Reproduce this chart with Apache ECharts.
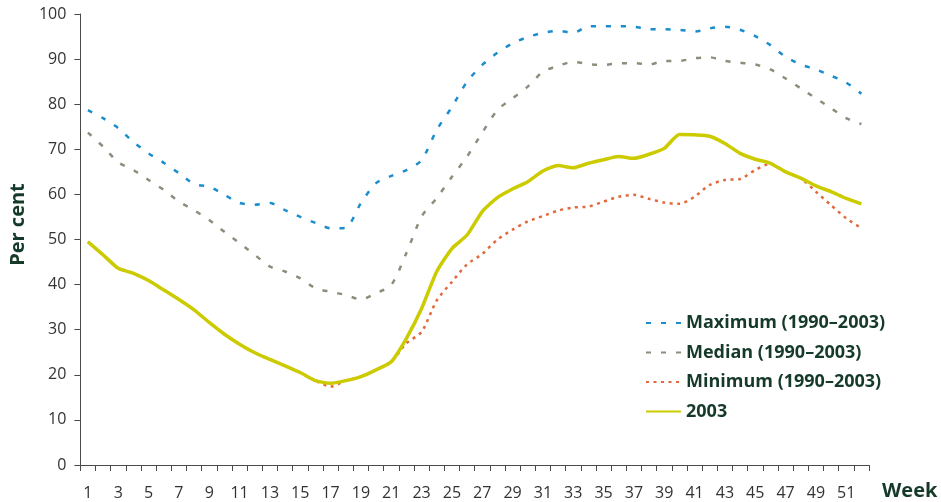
<!DOCTYPE html>
<html>
<head>
<meta charset="utf-8">
<script src="https://cdn.jsdelivr.net/npm/echarts@6/dist/echarts.min.js"></script>
<style>
  html, body { margin: 0; padding: 0; background: #ffffff; }
  #chart { width: 941px; height: 502px; }
</style>
</head>
<body>
<div id="chart"></div>
<script>
// Week numbers along the x axis
const weeks = [1,2,3,4,5,6,7,8,9,10,11,12,13,14,15,16,17,18,19,20,21,22,23,24,25,26,
  27,28,29,30,31,32,33,34,35,36,37,38,39,40,41,42,43,44,45,46,47,48,49,50,51,52];

// Weekly values, per cent
const maximum = [78.7,76.9,74.7,71.6,69.1,67.0,64.7,62.3,61.7,59.9,58.1,57.7,58.1,56.5,55.0,53.7,
  52.5,52.6,58.1,62.5,64.1,65.4,67.6,74.3,79.4,85.0,88.7,91.4,93.5,94.9,95.8,96.3,95.8,97.3,
  97.3,97.3,97.2,96.6,96.6,96.5,96.1,96.8,97.2,96.5,95.1,93.1,90.5,88.8,87.7,86.3,84.8,82.3];

const median = [73.7,70.6,67.1,65.4,63.2,61.0,58.4,56.5,54.3,51.7,49.2,46.6,44.0,42.9,41.4,39.2,
  38.4,37.7,36.7,38.1,39.9,47.0,55.1,59.2,63.9,68.4,73.7,78.7,81.3,83.9,87.2,88.5,89.4,88.9,
  88.7,89.1,89.1,88.8,89.6,89.6,90.2,90.4,89.6,89.2,88.8,87.7,85.7,83.5,81.3,79.1,76.9,75.6];

const minimum = [49.5,46.6,43.6,42.5,40.9,38.8,36.7,34.4,31.6,29.0,26.8,24.9,23.4,22.0,20.5,18.7,
  17.4,18.7,19.6,21.1,22.9,27.0,29.5,36.5,40.6,44.5,46.8,50.0,52.2,54.0,55.2,56.4,57.1,57.3,
  58.4,59.5,59.9,59.0,58.2,57.9,59.5,62.1,63.2,63.4,65.4,66.8,65.0,63.6,60.6,57.6,54.7,52.5];

const year2003 = [49.5,46.6,43.6,42.5,40.9,38.8,36.7,34.4,31.6,29.0,26.8,24.9,23.4,22.0,20.5,18.7,
  18.1,18.7,19.6,21.1,22.9,28.1,34.7,42.9,48.0,51.0,56.2,59.3,61.2,62.8,65.2,66.4,65.9,66.9,
  67.7,68.4,68.0,68.9,70.2,73.3,73.2,72.9,71.3,69.1,67.8,66.9,65.0,63.6,61.9,60.6,59.1,57.9];

const seriesNames = ['Maximum (1990\u20132003)', 'Median (1990\u20132003)', 'Minimum (1990\u20132003)', '2003'];

const FONT = '"Open Sans", "DejaVu Sans", sans-serif';
const DARK_GREEN = '#163a2a';
const AXIS_GREY = '#4a4a4a';

const chart = echarts.init(document.getElementById('chart'), null, { renderer: 'canvas' });

chart.setOption({
  animation: false,
  backgroundColor: '#ffffff',
  grid: { left: 77, right: 72, top: 14, bottom: 37, containLabel: false },
  legend: {
    data: seriesNames,
    orient: 'vertical',
    left: 640,
    top: 308,
    itemWidth: 35,
    itemHeight: 14,
    itemGap: 9.5,
    // line only in the legend keys, no marker dot
    itemStyle: { opacity: 0 },
    textStyle: {
      fontFamily: FONT,
      fontWeight: 'bold',
      fontSize: 18,
      color: DARK_GREEN,
      lineHeight: 20,
      padding: [0, 0, 0, 0]
    }
  },
  xAxis: {
    type: 'category',
    data: weeks,
    boundaryGap: true,
    name: 'Week',
    nameLocation: 'end',
    nameGap: 13,
    nameTextStyle: {
      fontFamily: FONT,
      fontWeight: 'bold',
      fontSize: 20,
      color: DARK_GREEN,
      align: 'left',
      verticalAlign: 'top',
      padding: [16, 0, 0, 0]
    },
    axisLine: { show: true, lineStyle: { color: AXIS_GREY, width: 1 } },
    axisTick: { show: true, interval: 0, length: 6, inside: false, lineStyle: { color: AXIS_GREY } },
    axisLabel: {
      interval: 1,
      margin: 20,
      fontFamily: FONT,
      fontSize: 16,
      color: '#333333'
    },
    splitLine: { show: false }
  },
  yAxis: {
    type: 'value',
    min: 0,
    max: 100,
    interval: 10,
    name: 'Per cent',
    nameLocation: 'middle',
    nameGap: 51,
    nameRotate: 90,
    nameTextStyle: {
      fontFamily: FONT,
      fontWeight: 'bold',
      fontSize: 20,
      color: DARK_GREEN,
      padding: [0, 0, 0, 30]
    },
    axisLine: { show: true, lineStyle: { color: AXIS_GREY, width: 1 } },
    axisTick: { show: true, length: 6, inside: false, lineStyle: { color: AXIS_GREY } },
    axisLabel: {
      margin: 14,
      fontFamily: FONT,
      fontSize: 16,
      color: '#333333'
    },
    splitLine: { show: false }
  },
  series: [
    {
      name: seriesNames[0],
      type: 'line',
      data: maximum,
      smooth: 0.25,
      symbol: 'none',
      color: '#1a8dcf',
      lineStyle: { color: '#1a8dcf', width: 2.5, type: [5, 10] },
      z: 2
    },
    {
      name: seriesNames[1],
      type: 'line',
      data: median,
      smooth: 0.25,
      symbol: 'none',
      color: '#8f8c7d',
      lineStyle: { color: '#8f8c7d', width: 2.5, type: [5, 10] },
      z: 2
    },
    {
      name: seriesNames[2],
      type: 'line',
      data: minimum,
      smooth: 0.25,
      symbol: 'none',
      color: '#e2693c',
      lineStyle: { color: '#e2693c', width: 2.5, type: [3, 4.5] },
      z: 3
    },
    {
      name: seriesNames[3],
      type: 'line',
      data: year2003,
      smooth: 0.2,
      symbol: 'none',
      color: '#cccb00',
      lineStyle: { color: '#cccb00', width: 3.5, type: 'solid' },
      z: 4
    }
  ]
});
</script>
</body>
</html>
